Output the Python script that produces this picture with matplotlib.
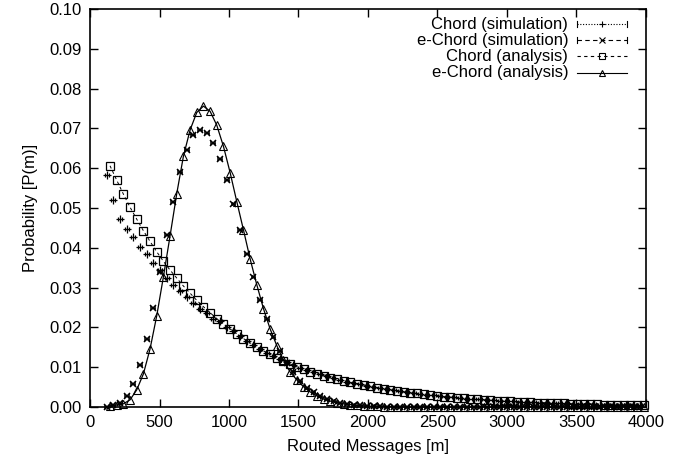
import numpy as np
import matplotlib
matplotlib.use('Agg')
import matplotlib.pyplot as plt
from matplotlib.lines import Line2D

plt.rcParams['font.family'] = ['Liberation Sans', 'DejaVu Sans']
plt.rcParams['font.size'] = 12

# analysis curves are evaluated every 48 messages starting at 144,
# simulation histogram bins are centred every 48 messages starting at 120
chord_ana = [
    0.0606, 0.0570, 0.0535, 0.0502, 0.0472, 0.0443, 0.0416, 0.0390, 0.0366, 0.0344,
    0.0324, 0.0304, 0.0286, 0.0268, 0.0252, 0.0237, 0.0222, 0.0209, 0.0196, 0.0184,
    0.0172, 0.0161, 0.0151, 0.0141, 0.0132, 0.0124, 0.0116, 0.0108, 0.0101, 0.0095,
    0.0089, 0.0084, 0.0079, 0.0074, 0.0070, 0.0066, 0.0062, 0.0058, 0.0055, 0.0052,
    0.0049, 0.0046, 0.0043, 0.0041, 0.0038, 0.0036, 0.0034, 0.0032, 0.0030, 0.0028,
    0.0026, 0.0025, 0.0023, 0.0022, 0.0021, 0.0019, 0.0018, 0.0017, 0.0016, 0.0015,
    0.0014, 0.0013, 0.0013, 0.0012, 0.0011, 0.0011, 0.0010, 0.0009, 0.0009, 0.0008,
    0.0008, 0.0007, 0.0007, 0.0007, 0.0006, 0.0006, 0.0006, 0.0005, 0.0005, 0.0005,
    0.0004]

echord_ana = [
    0.0003, 0.0005, 0.0008, 0.0018, 0.0043, 0.0083, 0.0146, 0.0229, 0.0327, 0.0430,
    0.0536, 0.0630, 0.0696, 0.0740, 0.0756, 0.0743, 0.0708, 0.0655, 0.0589, 0.0516,
    0.0445, 0.0372, 0.0307, 0.0247, 0.0196, 0.0154, 0.0117, 0.0088, 0.0068, 0.0051,
    0.0038, 0.0028, 0.0020, 0.0015, 0.0011, 0.0008, 0.0006, 0.0004, 0.0003, 0.0002,
    0.0002, 0.0001, 0.0001, 0.0001, 0.0000, 0.0000, 0.0000, 0.0000, 0.0000, 0.0000,
    0.0000, 0.0000, 0.0000, 0.0000, 0.0000, 0.0000, 0.0000, 0.0000, 0.0000, 0.0000,
    0.0000, 0.0000, 0.0000, 0.0000, 0.0000, 0.0000, 0.0000, 0.0000, 0.0000, 0.0000,
    0.0000, 0.0000, 0.0000, 0.0000, 0.0000, 0.0000, 0.0000, 0.0000, 0.0000, 0.0000,
    0.0000]

chord_sim = [
    0.0584, 0.0520, 0.0473, 0.0448, 0.0426, 0.0403, 0.0384, 0.0361, 0.0343, 0.0325,
    0.0307, 0.0291, 0.0276, 0.0261, 0.0247, 0.0235, 0.0222, 0.0215, 0.0202, 0.0190,
    0.0178, 0.0167, 0.0156, 0.0146, 0.0136, 0.0128, 0.0120, 0.0112, 0.0105, 0.0098,
    0.0092, 0.0087, 0.0082, 0.0077, 0.0072, 0.0068, 0.0064, 0.0060, 0.0057, 0.0053,
    0.0050, 0.0047, 0.0045, 0.0042, 0.0040, 0.0037, 0.0035, 0.0033, 0.0031, 0.0029,
    0.0027, 0.0026, 0.0024, 0.0023, 0.0021, 0.0020, 0.0019, 0.0018, 0.0017, 0.0016,
    0.0015, 0.0014, 0.0013, 0.0012, 0.0012, 0.0011, 0.0010, 0.0010, 0.0009, 0.0009,
    0.0008, 0.0008, 0.0007, 0.0007, 0.0006, 0.0006, 0.0006, 0.0005, 0.0005, 0.0005,
    0.0004]

echord_sim = [
    0.0001, 0.0004, 0.0009, 0.0028, 0.0058, 0.0105, 0.0170, 0.0250, 0.0339, 0.0431,
    0.0515, 0.0590, 0.0646, 0.0683, 0.0696, 0.0688, 0.0663, 0.0622, 0.0570, 0.0511,
    0.0445, 0.0384, 0.0326, 0.0270, 0.0222, 0.0177, 0.0141, 0.0111, 0.0087, 0.0066,
    0.0049, 0.0038, 0.0028, 0.0021, 0.0016, 0.0011, 0.0008, 0.0006, 0.0004, 0.0003,
    0.0002, 0.0002, 0.0001, 0.0001, 0.0000, 0.0000, 0.0000, 0.0000, 0.0000, 0.0000,
    0.0000, 0.0000, 0.0000, 0.0000, 0.0000, 0.0000, 0.0000, 0.0000, 0.0000, 0.0000,
    0.0000, 0.0000, 0.0000, 0.0000, 0.0000, 0.0000, 0.0000, 0.0000, 0.0000, 0.0000,
    0.0000, 0.0000, 0.0000, 0.0000, 0.0000, 0.0000, 0.0000, 0.0000, 0.0000, 0.0000,
    0.0000]

labels = ['Chord (simulation)', 'e-Chord (simulation)', 'Chord (analysis)', 'e-Chord (analysis)']

x_ana = 144 + 48 * np.arange(len(chord_ana))
x_sim = 120 + 48 * np.arange(len(chord_sim))

fig = plt.figure(figsize=(6.94, 4.66), dpi=100)
ax = fig.add_axes([0.1297, 0.1266, 0.8011, 0.8541])

# simulations: points with small x error bars, no connecting line
ax.errorbar(x_sim, chord_sim, xerr=14, fmt='+', color='black', ms=5.5, mew=0.9,
            elinewidth=0.8, capsize=1.5, clip_on=False, zorder=3)
ax.errorbar(x_sim, echord_sim, xerr=14, fmt='x', color='black', ms=5, mew=1.1,
            elinewidth=0.8, capsize=1.5, clip_on=False, zorder=3)
# analysis: lines with points
ax.plot(x_ana, chord_ana, color='black', lw=0.7, ls=(0, (3, 3)), marker='s', ms=5.5,
        mfc='none', mew=0.9, clip_on=False, zorder=2)
ax.plot(x_ana, echord_ana, color='black', lw=0.9, ls='-', marker='^', ms=5.5,
        mfc='none', mew=0.8, clip_on=False, zorder=2)

ax.set_xlim(0, 4000)
ax.set_ylim(0, 0.10)
ax.set_xticks(np.arange(0, 4001, 500))
ax.set_yticks(np.arange(0, 0.1001, 0.01))
ax.yaxis.set_major_formatter(matplotlib.ticker.FormatStrFormatter('%.2f'))
ax.tick_params(direction='in', length=6, width=1, top=True, right=True, labelsize=12, pad=6)
for s in ax.spines.values():
    s.set_linewidth(1.2)
ax.set_xlabel('Routed Messages [m]', fontsize=12, labelpad=6)
ax.set_ylabel('Probability [P(m)]', fontsize=12, labelpad=8)

# gnuplot style key: right-aligned text followed by the sample
rows_y = [0.962, 0.922, 0.881, 0.840]
tx, x0, x1 = 0.860, 0.876, 0.966
xm = (x0 + x1) / 2
styles = [
    dict(ls=(0, (1, 1.5)), marker='+'),
    dict(ls=(0, (4, 3)), marker='x'),
    dict(ls=(0, (3, 3)), marker='s'),
    dict(ls='-', marker='^'),
]
for i, (lab, st, yy) in enumerate(zip(labels, styles, rows_y)):
    ax.text(tx, yy, lab, transform=ax.transAxes, ha='right', va='center', fontsize=12)
    ax.add_line(Line2D([x0, x1], [yy, yy], transform=ax.transAxes, color='black',
                       lw=0.8, ls=st['ls']))
    ax.add_line(Line2D([xm], [yy], transform=ax.transAxes, color='black', ls='none',
                       marker=st['marker'], ms=4.5, mfc='none', mew=0.8))
    if i < 2:
        for xe in (x0, x1):
            ax.add_line(Line2D([xe, xe], [yy - 0.008, yy + 0.008], transform=ax.transAxes,
                               color='black', lw=0.8))

fig.savefig('out.png', dpi=100)
